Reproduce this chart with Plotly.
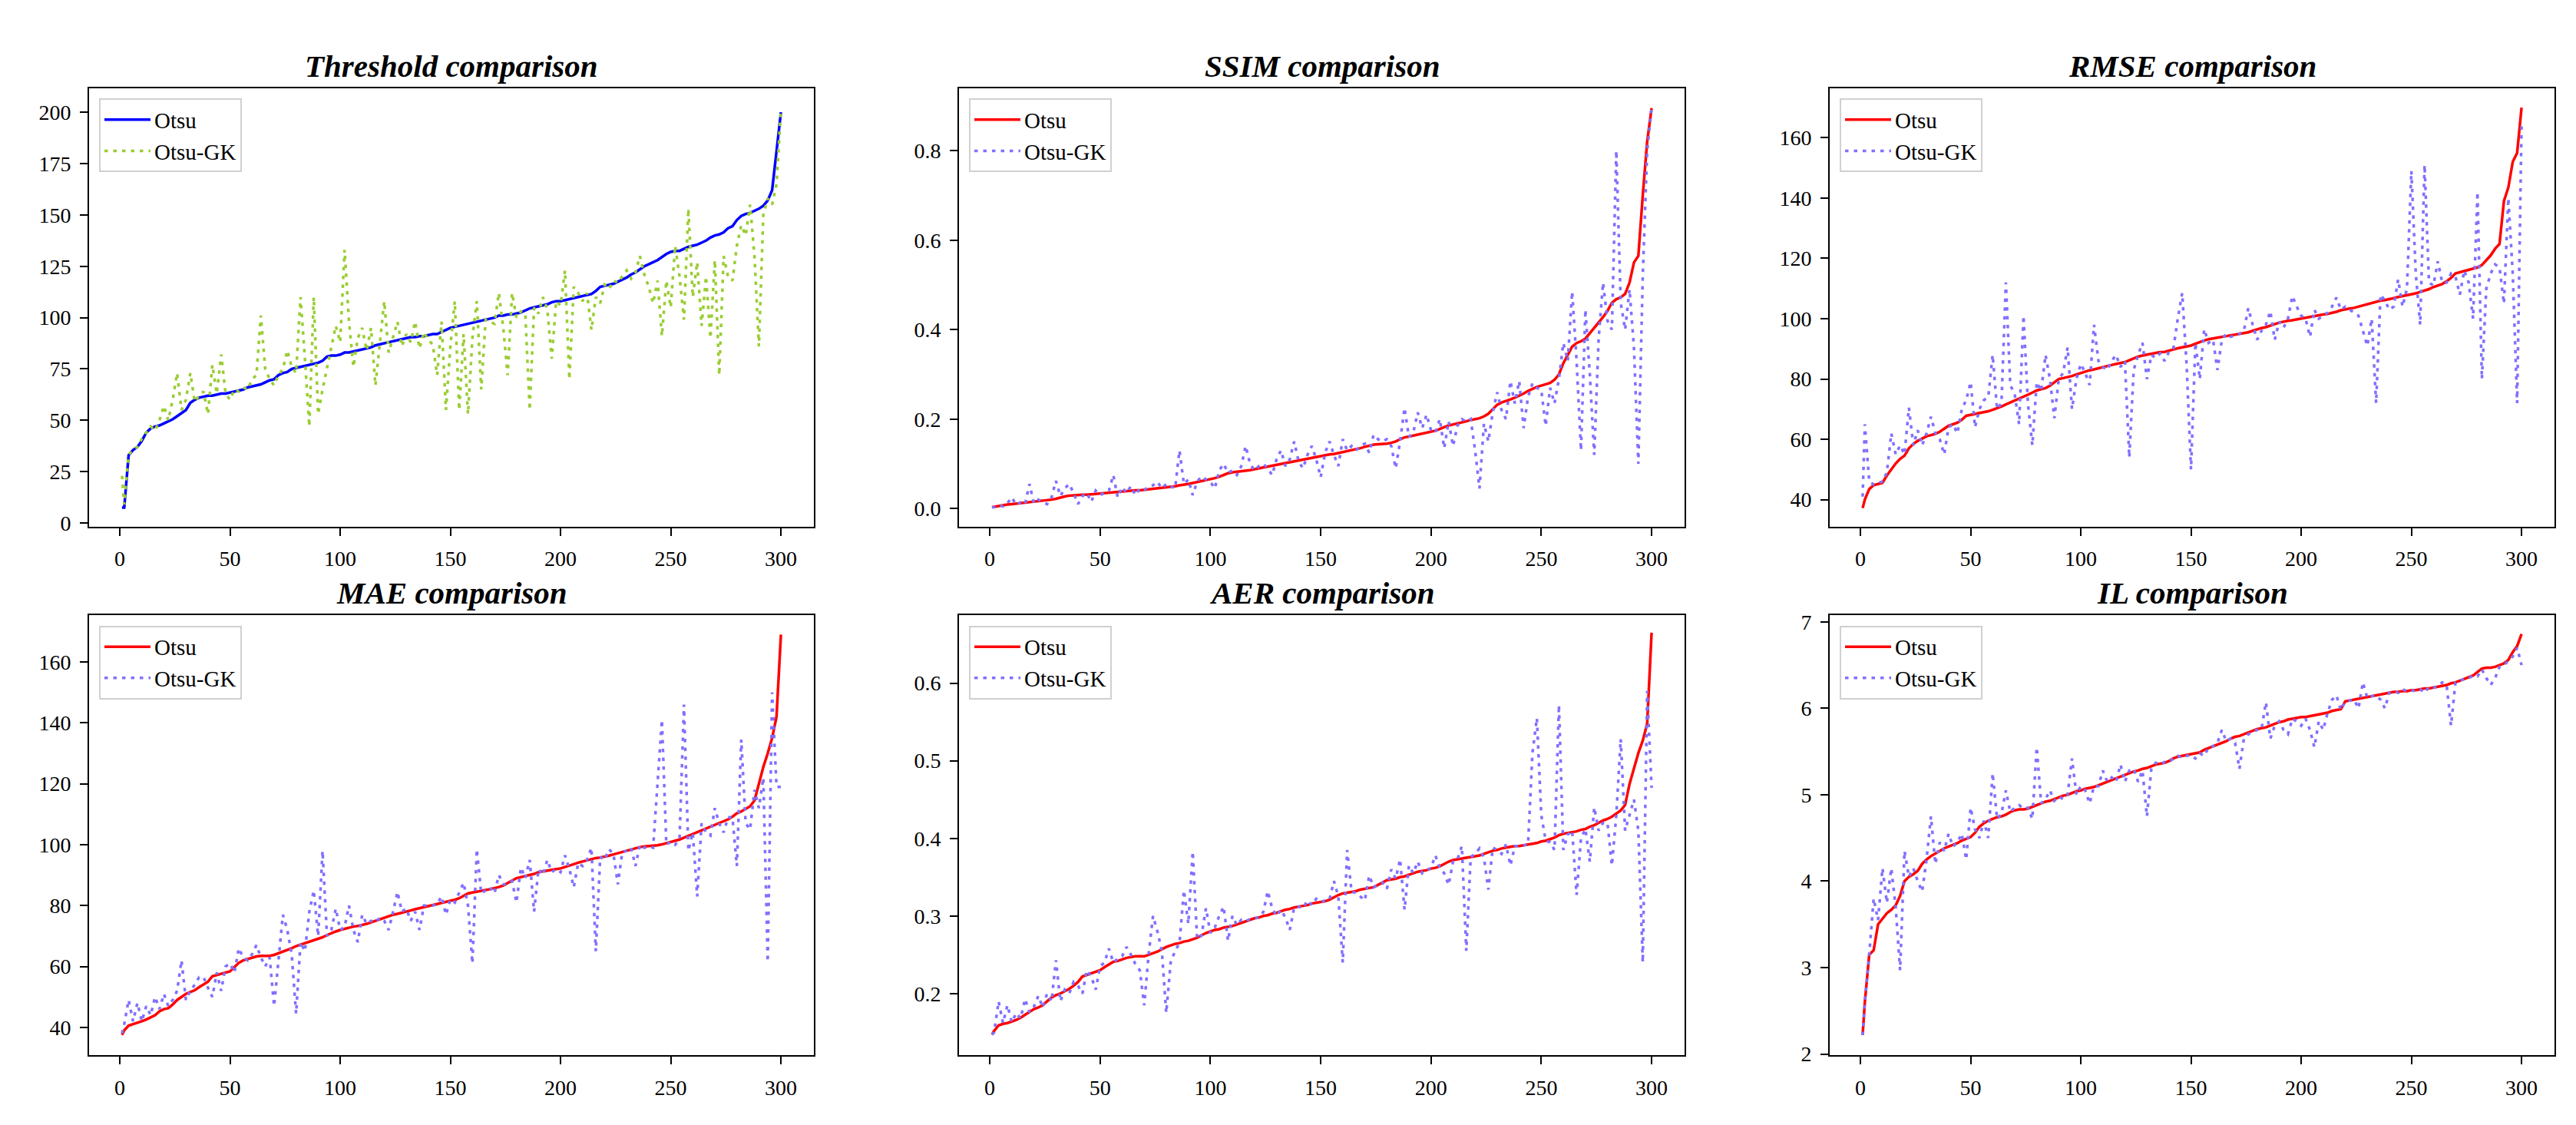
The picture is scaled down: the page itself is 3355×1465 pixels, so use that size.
import plotly.graph_objects as go
from plotly.subplots import make_subplots

W, H = 3355, 1465
# the page body keeps its default 8px margin, so the figure is drawn
# that much smaller and positions below are given in window pixels
PAD = 8
FW, FH = W - 2 * PAD, H - 2 * PAD
FONT = "Liberation Serif"

# image index (every second image, plus the first one)
X = [1] + list(range(2, 301, 2))

thr_otsu = [7.5,
    7.5, 33, 35.5, 37, 40, 44, 46, 47, 47.5, 48.5,
    49.5, 50.5, 52, 53.5, 55, 58.5, 60, 61, 61.5, 62,
    62, 62.5, 63, 63, 63.5, 64, 64.5, 65, 66, 66.5,
    67, 67.5, 68.5, 69.5, 70, 72, 73, 73.5, 75, 75.5,
    76, 76.5, 77, 77.5, 78, 79, 81, 81.5, 81.5, 82,
    83, 83, 83.5, 84, 84.5, 85, 85.5, 86.5, 87, 87.5,
    88, 88.5, 89, 89.5, 90, 90.5, 90.5, 91, 91, 91.5,
    92, 92, 93, 94, 95, 95.5, 96, 96.5, 97, 97.5,
    98, 98.5, 99, 99.5, 100, 101, 101, 101.5, 101.5, 102,
    102.5, 103.5, 104.5, 105, 105.5, 106, 106.5, 107.5, 108, 108,
    108.5, 109, 109.5, 110, 110.5, 111, 111.5, 113, 115, 115.5,
    116, 116.5, 117.5, 118.5, 119.5, 121, 122, 123.5, 125, 126,
    127, 128, 129.5, 131, 132, 132.5, 132.5, 133.5, 134.5, 135,
    135.5, 136.5, 137.5, 139, 140, 140.5, 141.5, 143.5, 144.5, 147.5,
    149.5, 150.5, 151, 152, 153, 154.5, 157, 162, 182, 200]
thr_gk = [23,
    9, 33, 36, 37, 41, 44, 47, 45, 50, 57,
    50, 60, 73, 55, 60, 73, 59, 62, 64, 53,
    77, 63, 82, 63, 60, 65, 64, 66, 65, 70,
    72, 101, 75, 70, 67, 72, 75, 84, 76, 73,
    110, 80, 47, 110, 53, 65, 75, 85, 96, 88,
    133, 98, 76, 90, 95, 84, 95, 67, 87, 108,
    83, 90, 98, 86, 92, 88, 98, 85, 93, 89,
    87, 72, 98, 55, 86, 108, 55, 92, 53, 90,
    108, 65, 99, 98, 97, 112, 95, 72, 112, 100,
    103, 102, 55, 105, 102, 110, 104, 80, 108, 106,
    123, 70, 115, 112, 108, 112, 94, 110, 107, 116,
    114, 118, 117, 120, 123, 119, 122, 130, 121, 115,
    107, 118, 91, 118, 105, 135, 120, 99, 153, 110,
    127, 96, 120, 90, 128, 72, 130, 120, 118, 135,
    145, 140, 155, 130, 86, 150, 158, 155, 165, 201]

ssim_otsu = [0.003,
    0.004, 0.006, 0.007, 0.009, 0.010, 0.011, 0.012, 0.013, 0.014, 0.015,
    0.016, 0.017, 0.018, 0.020, 0.022, 0.025, 0.027, 0.029, 0.030, 0.030,
    0.031, 0.031, 0.032, 0.033, 0.033, 0.034, 0.035, 0.036, 0.037, 0.038,
    0.039, 0.040, 0.041, 0.041, 0.042, 0.043, 0.045, 0.046, 0.047, 0.048,
    0.049, 0.050, 0.052, 0.053, 0.055, 0.057, 0.059, 0.061, 0.063, 0.065,
    0.068, 0.071, 0.075, 0.079, 0.081, 0.082, 0.084, 0.085, 0.086, 0.088,
    0.090, 0.092, 0.094, 0.096, 0.098, 0.100, 0.102, 0.104, 0.106, 0.108,
    0.110, 0.112, 0.114, 0.116, 0.118, 0.120, 0.121, 0.122, 0.124, 0.126,
    0.128, 0.131, 0.133, 0.135, 0.138, 0.141, 0.143, 0.144, 0.144, 0.145,
    0.147, 0.150, 0.155, 0.159, 0.161, 0.163, 0.165, 0.168, 0.170, 0.172,
    0.174, 0.178, 0.182, 0.186, 0.188, 0.190, 0.192, 0.195, 0.198, 0.200,
    0.202, 0.206, 0.212, 0.222, 0.232, 0.237, 0.240, 0.244, 0.248, 0.252,
    0.257, 0.263, 0.268, 0.272, 0.275, 0.278, 0.281, 0.288, 0.300, 0.325,
    0.342, 0.362, 0.370, 0.374, 0.380, 0.392, 0.405, 0.415, 0.428, 0.442,
    0.460, 0.468, 0.472, 0.480, 0.505, 0.550, 0.565, 0.700, 0.820, 0.895]
ssim_gk = [0.003,
    0.003, 0.008, 0.005, 0.012, 0.025, 0.008, 0.014, 0.010, 0.055, 0.012,
    0.020, 0.014, 0.010, 0.025, 0.062, 0.028, 0.045, 0.055, 0.035, 0.010,
    0.028, 0.035, 0.015, 0.040, 0.030, 0.035, 0.040, 0.075, 0.025, 0.048,
    0.035, 0.050, 0.030, 0.045, 0.042, 0.048, 0.052, 0.060, 0.045, 0.055,
    0.050, 0.045, 0.130, 0.055, 0.065, 0.030, 0.060, 0.072, 0.065, 0.060,
    0.045, 0.085, 0.100, 0.080, 0.085, 0.075, 0.095, 0.140, 0.100, 0.085,
    0.095, 0.100, 0.090, 0.075, 0.110, 0.130, 0.095, 0.110, 0.150, 0.105,
    0.090, 0.120, 0.140, 0.110, 0.070, 0.125, 0.150, 0.120, 0.095, 0.155,
    0.130, 0.140, 0.130, 0.140, 0.145, 0.125, 0.165, 0.155, 0.150, 0.155,
    0.140, 0.090, 0.150, 0.225, 0.160, 0.170, 0.215, 0.180, 0.210, 0.175,
    0.170, 0.200, 0.135, 0.195, 0.140, 0.185, 0.200, 0.195, 0.200, 0.130,
    0.045, 0.190, 0.150, 0.215, 0.260, 0.220, 0.200, 0.285, 0.235, 0.285,
    0.180, 0.250, 0.280, 0.270, 0.265, 0.185, 0.270, 0.235, 0.290, 0.370,
    0.330, 0.485, 0.330, 0.130, 0.445, 0.300, 0.120, 0.380, 0.505, 0.420,
    0.400, 0.800, 0.460, 0.400, 0.490, 0.360, 0.100, 0.520, 0.800, 0.895]

rmse_otsu = [37.2,
    40, 43.5, 44.8, 45.2, 45.6, 48, 50, 52, 53.5, 54.6,
    57, 58.5, 59.5, 60.3, 61, 61.4, 61.8, 62.5, 63.6, 64.5,
    65, 65.5, 66.5, 67.8, 68.1, 68.4, 68.6, 68.9, 69.3, 69.8,
    70.3, 70.9, 71.6, 72.2, 72.8, 73.4, 74.1, 74.8, 75.5, 76.2,
    76.6, 77, 77.8, 79, 80, 80.3, 80.6, 81, 81.5, 82,
    82.4, 82.9, 83.2, 83.6, 84, 84.3, 84.7, 85, 85.3, 85.6,
    86.2, 86.9, 87.4, 87.8, 88.1, 88.4, 88.7, 88.9, 89, 89.3,
    89.8, 90.2, 90.5, 90.8, 91.1, 91.7, 92.3, 92.8, 93.2, 93.5,
    93.8, 94.1, 94.3, 94.5, 94.7, 94.9, 95.2, 95.5, 96, 96.5,
    96.9, 97.2, 97.6, 98.2, 98.7, 99.1, 99.3, 99.5, 99.8, 100,
    100.3, 100.6, 100.9, 101.2, 101.4, 101.6, 101.9, 102.3, 102.8, 103.2,
    103.4, 103.6, 104, 104.5, 104.9, 105.4, 105.8, 106, 106.2, 106.4,
    106.8, 107.2, 107.5, 107.8, 108, 108.4, 108.9, 109.3, 109.8, 110.5,
    111, 111.5, 112.4, 113.5, 115, 115.4, 115.8, 116.3, 116.8, 117,
    117.8, 119.5, 121, 123.2, 124.8, 139, 143.5, 152, 155, 170]
rmse_gk = [41,
    65, 46, 45, 45.5, 46, 49, 62, 55, 58, 55,
    70.5, 58, 63, 58, 62, 67.5, 62, 60, 55, 64,
    65, 62, 70, 73, 79, 64, 70, 73, 74, 88,
    70, 72, 112, 78, 75, 65, 101, 72, 58, 79,
    76, 88, 80, 67, 80, 82, 90.5, 70, 80, 85,
    82, 78, 98, 86, 84, 83, 86, 88, 84, 86,
    54, 83, 88, 92, 80, 88, 87, 88.5, 86, 89,
    90, 100, 108.5, 85, 50, 92, 80, 96.5, 92, 93,
    83, 93, 95, 94, 94.5, 95, 96, 103.5, 98, 93,
    96, 98, 102.5, 93, 99, 97, 100, 107.5, 104, 101,
    100, 94, 103, 100, 101, 102, 104, 107, 103, 104,
    103, 102, 101, 96, 91, 100, 72, 108, 106, 103,
    104, 113, 104, 110, 149, 115, 98, 151, 112, 111,
    119, 112, 112, 115, 114, 108, 116, 112, 100, 142,
    80, 110, 115, 118, 117, 105, 140, 115, 72, 164]

mae_otsu = [37.5,
    39, 40.6, 41, 41.4, 42, 42.6, 43.2, 44, 45.3, 46,
    46.3, 47.5, 49, 50, 51, 51.6, 52.2, 53.2, 54.2, 55,
    56.8, 57.2, 57.6, 58, 58.4, 59.8, 61.2, 62, 62.5, 63,
    63.3, 63.5, 63.5, 63.5, 63.8, 64.3, 64.8, 65.4, 66, 66.7,
    67.2, 67.7, 68.2, 68.6, 69, 69.6, 70.3, 71, 71.5, 72,
    72.4, 72.8, 73.1, 73.3, 73.6, 74, 74.5, 75, 75.6, 76.2,
    76.6, 77, 77.3, 77.6, 78, 78.4, 78.8, 79.1, 79.4, 79.7,
    80.1, 80.5, 80.9, 81.2, 81.5, 81.9, 82.4, 83.2, 84, 84.3,
    84.5, 84.8, 85.1, 85.4, 85.7, 86.1, 86.6, 87.3, 88.2, 89,
    89.3, 89.6, 89.9, 90.4, 91, 91.3, 91.6, 91.8, 92, 92.2,
    92.6, 93.1, 93.6, 94.1, 94.5, 95, 95.4, 95.6, 95.8, 96,
    96.4, 96.8, 97.2, 97.6, 98, 98.5, 98.9, 99.2, 99.4, 99.5,
    99.6, 99.8, 100.1, 100.5, 100.8, 101.2, 101.7, 102.3, 102.9, 103.5,
    104, 104.6, 105.3, 105.9, 106.4, 107, 107.6, 108.3, 109.2, 110.3,
    110.9, 111.7, 112.6, 114.5, 120, 125.5, 130, 135, 142, 169]
mae_gk = [38,
    41, 49, 42, 48, 42, 47, 44, 50, 46, 51,
    47, 49, 52, 62, 49, 52, 54, 56.5, 56.5, 53,
    50, 58, 52, 60, 61, 58, 66, 63, 62, 64,
    67, 63, 60, 63, 47, 62, 77, 72, 64, 44.5,
    68, 65, 78, 85, 70, 98, 70, 72, 79, 72,
    73, 80, 72, 68, 77, 74, 75, 74.5, 76, 75,
    72, 78, 84.5, 78, 79, 75, 78, 72, 80, 80,
    80, 80.5, 83, 77, 82, 81, 84, 87.5, 80, 61,
    98.5, 84, 85, 86, 84, 90, 87, 87, 88, 81,
    92.5, 89, 95, 78, 92, 90, 95, 91, 92, 91,
    96.5, 92, 86, 94, 93, 95, 99, 65, 96, 95,
    98.5, 97, 87, 97.5, 98, 99, 93, 100, 99, 99.5,
    99, 120, 141, 100, 101, 100, 102, 146, 98, 104,
    83, 107, 104, 103, 112, 107, 104, 109, 109, 93,
    134.5, 107, 105, 118, 112, 122, 61.5, 150, 119, 119]

aer_otsu = [0.147,
    0.152, 0.159, 0.161, 0.162, 0.164, 0.166, 0.169, 0.173, 0.177, 0.180,
    0.182, 0.185, 0.190, 0.195, 0.198, 0.200, 0.203, 0.206, 0.210, 0.215,
    0.222, 0.224, 0.226, 0.228, 0.230, 0.234, 0.238, 0.241, 0.242, 0.244,
    0.246, 0.247, 0.248, 0.248, 0.248, 0.250, 0.252, 0.254, 0.257, 0.260,
    0.262, 0.264, 0.265, 0.267, 0.268, 0.270, 0.272, 0.275, 0.278, 0.280,
    0.282, 0.283, 0.285, 0.286, 0.287, 0.289, 0.291, 0.293, 0.295, 0.297,
    0.298, 0.300, 0.301, 0.303, 0.304, 0.306, 0.308, 0.309, 0.311, 0.312,
    0.313, 0.314, 0.316, 0.317, 0.318, 0.319, 0.321, 0.324, 0.327, 0.329,
    0.330, 0.331, 0.332, 0.334, 0.335, 0.336, 0.337, 0.340, 0.343, 0.346,
    0.347, 0.348, 0.350, 0.351, 0.353, 0.355, 0.357, 0.358, 0.359, 0.361,
    0.362, 0.364, 0.367, 0.370, 0.372, 0.373, 0.374, 0.375, 0.376, 0.377,
    0.378, 0.380, 0.382, 0.384, 0.385, 0.387, 0.388, 0.389, 0.390, 0.390,
    0.391, 0.392, 0.393, 0.394, 0.396, 0.397, 0.399, 0.401, 0.404, 0.406,
    0.407, 0.408, 0.409, 0.411, 0.412, 0.415, 0.417, 0.420, 0.423, 0.425,
    0.428, 0.432, 0.436, 0.443, 0.470, 0.490, 0.510, 0.526, 0.548, 0.665]
aer_gk = [0.147,
    0.150, 0.190, 0.162, 0.185, 0.163, 0.175, 0.168, 0.193, 0.176, 0.183,
    0.197, 0.182, 0.200, 0.190, 0.243, 0.190, 0.205, 0.200, 0.215, 0.210,
    0.200, 0.230, 0.222, 0.205, 0.235, 0.240, 0.258, 0.240, 0.245, 0.248,
    0.260, 0.250, 0.238, 0.230, 0.185, 0.250, 0.300, 0.280, 0.255, 0.175,
    0.240, 0.255, 0.265, 0.333, 0.290, 0.383, 0.270, 0.275, 0.310, 0.278,
    0.285, 0.300, 0.312, 0.268, 0.300, 0.288, 0.295, 0.293, 0.296, 0.297,
    0.298, 0.305, 0.332, 0.310, 0.300, 0.308, 0.298, 0.282, 0.311, 0.312,
    0.310, 0.320, 0.314, 0.322, 0.318, 0.320, 0.321, 0.345, 0.325, 0.240,
    0.385, 0.331, 0.330, 0.325, 0.320, 0.352, 0.337, 0.340, 0.343, 0.335,
    0.360, 0.348, 0.373, 0.308, 0.365, 0.355, 0.370, 0.355, 0.359, 0.362,
    0.378, 0.362, 0.355, 0.340, 0.370, 0.373, 0.390, 0.255, 0.376, 0.380,
    0.387, 0.375, 0.334, 0.388, 0.385, 0.380, 0.392, 0.365, 0.390, 0.390,
    0.391, 0.392, 0.510, 0.555, 0.430, 0.397, 0.395, 0.385, 0.572, 0.385,
    0.405, 0.410, 0.327, 0.400, 0.412, 0.370, 0.440, 0.410, 0.420, 0.420,
    0.365, 0.430, 0.528, 0.410, 0.430, 0.450, 0.410, 0.240, 0.590, 0.465]

il_otsu = [2.22,
    2.6, 3.15, 3.2, 3.5, 3.57, 3.63, 3.67, 3.72, 3.83, 4.0,
    4.05, 4.08, 4.12, 4.2, 4.25, 4.29, 4.32, 4.35, 4.38, 4.4,
    4.42, 4.44, 4.47, 4.49, 4.51, 4.56, 4.63, 4.67, 4.7, 4.72,
    4.74, 4.75, 4.77, 4.8, 4.82, 4.83, 4.83, 4.84, 4.86, 4.88,
    4.9, 4.92, 4.93, 4.95, 4.97, 4.99, 5.0, 5.02, 5.04, 5.05,
    5.07, 5.08, 5.09, 5.11, 5.13, 5.15, 5.17, 5.19, 5.21, 5.23,
    5.25, 5.27, 5.28, 5.3, 5.31, 5.33, 5.35, 5.36, 5.37, 5.39,
    5.42, 5.44, 5.45, 5.46, 5.47, 5.48, 5.49, 5.52, 5.54, 5.56,
    5.58, 5.6, 5.62, 5.65, 5.67, 5.68, 5.7, 5.72, 5.74, 5.76,
    5.77, 5.78, 5.8, 5.82, 5.84, 5.85, 5.87, 5.88, 5.89, 5.9,
    5.9, 5.91, 5.92, 5.93, 5.94, 5.95, 5.97, 5.98, 5.99, 6.08,
    6.09, 6.1, 6.11, 6.12, 6.13, 6.14, 6.15, 6.16, 6.17, 6.18,
    6.19, 6.19, 6.2, 6.2, 6.21, 6.21, 6.22, 6.23, 6.23, 6.24,
    6.25, 6.26, 6.27, 6.29, 6.3, 6.32, 6.34, 6.36, 6.38, 6.42,
    6.46, 6.47, 6.47, 6.48, 6.5, 6.52, 6.56, 6.65, 6.72, 6.86]
il_gk = [2.22,
    2.6, 3.15, 3.8, 3.55, 4.15, 3.75, 4.15, 3.7, 2.97, 4.35,
    4.05, 4.15, 4.0, 3.88, 4.25, 4.75, 4.2, 4.45, 4.35, 4.55,
    4.4, 4.45, 4.55, 4.25, 4.85, 4.6, 4.5, 4.7, 4.5, 5.25,
    4.72, 4.78, 5.05, 4.8, 4.85, 4.88, 4.84, 4.85, 4.72, 5.55,
    4.9, 4.95, 5.05, 4.93, 4.98, 4.95, 5.0, 5.42, 5.0, 5.1,
    5.05, 4.9, 5.1, 5.1, 5.28, 5.15, 5.2, 5.15, 5.35, 5.15,
    5.28, 5.3, 5.15, 5.28, 4.75, 5.3, 5.37, 5.35, 5.38, 5.38,
    5.42, 5.45, 5.43, 5.45, 5.46, 5.42, 5.48, 5.45, 5.55, 5.56,
    5.6, 5.75, 5.62, 5.65, 5.6, 5.3, 5.65, 5.7, 5.73, 5.75,
    5.76, 6.07, 5.65, 5.8, 5.85, 5.75, 5.7, 5.88, 5.85, 5.8,
    5.88, 5.75, 5.55, 5.85, 5.75, 5.95, 6.1, 6.15, 5.98, 6.08,
    6.09, 6.1, 6.0, 6.3, 6.12, 6.14, 6.15, 6.1, 6.0, 6.18,
    6.2, 6.18, 6.22, 6.2, 6.21, 6.2, 6.22, 6.18, 6.25, 6.24,
    6.25, 6.3, 6.27, 5.8, 6.3, 6.32, 6.34, 6.35, 6.38, 6.37,
    6.45, 6.35, 6.27, 6.35, 6.48, 6.5, 6.55, 6.6, 6.7, 6.5]

titles = ["Threshold comparison", "SSIM comparison", "RMSE comparison",
          "MAE comparison", "AER comparison", "IL comparison"]
series = [(thr_otsu, thr_gk), (ssim_otsu, ssim_gk), (rmse_otsu, rmse_gk),
          (mae_otsu, mae_gk), (aer_otsu, aer_gk), (il_otsu, il_gk)]
y_ranges = [[-1.7, 211.8], [-0.040, 0.940], [31.1, 176.5],
            [30.9, 175.4], [0.1207, 0.6877], [1.9875, 7.079]]
y_ticks = [(0, 25, None), (0, 0.2, ".1f"), (40, 20, None),
           (40, 20, None), (0.2, 0.1, ".1f"), (2, 1, None)]

# window-pixel boxes of the six axes: (left, right) and (top, bottom)
cols = [(116, 1060), (1249, 2194), (2383, 3327)]
rows = [(110, 689), (806, 1387)]


def px_x(p):
    return (p - PAD) / FW


def px_y(p):
    return 1 - (p - PAD) / FH


fig = make_subplots(rows=2, cols=3)
tick_font = dict(family=FONT, size=28, color="black")

for i, (title, (otsu, gk)) in enumerate(zip(titles, series)):
    r, c = divmod(i, 3)
    leg = "legend" if i == 0 else f"legend{i + 1}"
    main_col = "#0000ff" if i == 0 else "#ff0000"
    gk_col = "#9acd32" if i == 0 else "#8070ff"
    fig.add_trace(go.Scatter(x=X, y=otsu, mode="lines", name="Otsu",
                             line=dict(color=main_col, width=3.5),
                             legend=leg), row=r + 1, col=c + 1)
    fig.add_trace(go.Scatter(x=X, y=gk, mode="lines", name="Otsu-GK",
                             line=dict(color=gk_col, width=3.5, dash="4.5px,7px"),
                             legend=leg), row=r + 1, col=c + 1)

    x0, x1 = cols[c]
    t0, b0 = rows[r]
    xd = [px_x(x0), px_x(x1)]
    yd = [px_y(b0), px_y(t0)]
    axis_style = dict(showgrid=False, zeroline=False, showline=True, mirror=True,
                      linecolor="black", linewidth=2, ticks="outside", ticklen=10,
                      tickwidth=2, tickcolor="black", tickfont=tick_font,
                      ticklabelstandoff=6)
    fig.update_xaxes(domain=xd, range=[-13.95, 314.95], tickmode="linear",
                     tick0=0, dtick=50, **axis_style, row=r + 1, col=c + 1)
    t0v, dt, fmt = y_ticks[i]
    fig.update_yaxes(domain=yd, range=y_ranges[i], tickmode="linear",
                     tick0=t0v, dtick=dt, tickformat=fmt, **axis_style,
                     row=r + 1, col=c + 1)

    fig.add_annotation(text=f"<b><i>{title}</i></b>", xref="paper", yref="paper",
                       x=(xd[0] + xd[1]) / 2, y=yd[1], xanchor="center",
                       yanchor="bottom", yshift=4, showarrow=False,
                       font=dict(family=FONT, size=41, color="black"))

    fig.update_layout({leg: dict(
        x=px_x(x0 + 13), y=px_y(t0 + 14), xanchor="left", yanchor="top",
        bgcolor="rgba(255,255,255,0.8)", bordercolor="#d0d0d0", borderwidth=2,
        font=dict(family=FONT, size=29, color="black"), itemwidth=60,
        tracegroupgap=0)})

fig.update_layout(width=FW, height=FH, margin=dict(l=0, r=0, t=0, b=0),
                  paper_bgcolor="white", plot_bgcolor="white", showlegend=True)

fig.write_html("out.html")
